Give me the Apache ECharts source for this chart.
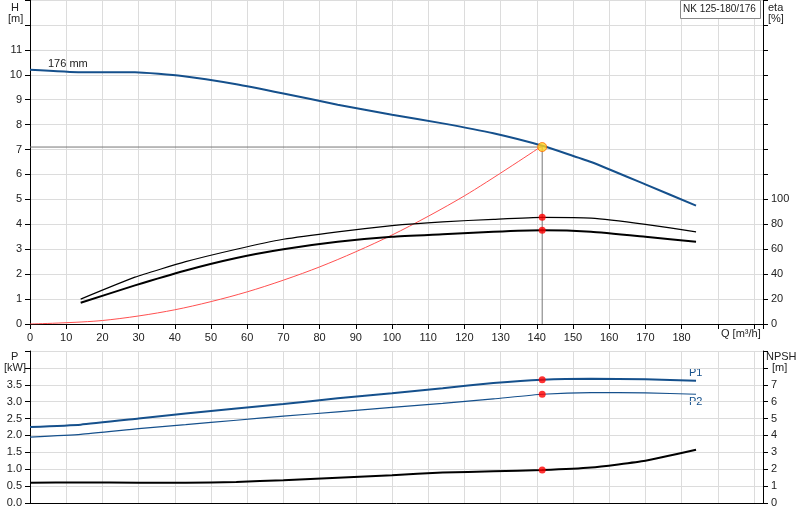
<!DOCTYPE html>
<html><head><meta charset="utf-8">
<script src="https://cdn.jsdelivr.net/npm/echarts@6/dist/echarts.min.js"></script>
<style>html,body{margin:0;padding:0;background:#fff}#c{width:800px;height:520px}</style>
</head><body><div id="c"></div>
<script>
const qH=[0,14,29,42,57,70,85,100,114,128,141.5,155,170,184];
const H=[10.2,10.1,10.1,9.95,9.62,9.25,8.8,8.4,8.05,7.65,7.15,6.5,5.6,4.75];
const qEta=[14,29,43,57,70,85,100,114,128,141.5,155,170,184];
const etaUpper=[20,37.6,50,60,68,74,79,82,84,85.6,85,80,74];
const etaLower=[17,31,43,53,60,66,70,72,74,75.2,74,70,66];
const qSys=[0,20,40,60,80,100,120,141.5];
const hSys=[0,0.14,0.57,1.29,2.29,3.57,5.14,7.15];
const qP=[0,14,30,43,57,70,85,100,114,128,141.5,155,170,184];
const P1=[2.25,2.32,2.5,2.65,2.8,2.93,3.1,3.25,3.4,3.55,3.65,3.68,3.66,3.62];
const P2=[1.95,2.03,2.2,2.32,2.45,2.57,2.7,2.83,2.95,3.08,3.22,3.27,3.26,3.22];
const NPSH=[1.2,1.22,1.2,1.2,1.25,1.35,1.5,1.65,1.8,1.88,1.95,2.1,2.5,3.15];
const duty={q:141.5,h:7.1,etaU:85.6,etaL:75.2,p1:3.65,p2:3.22,npsh:1.95};
const z=(a,b)=>a.map((v,i)=>[v,b[i]]);
const blue='#15508c', grid='#dcdcdc', txt='#222';
const xAx=(gi,show)=>({type:'value',gridIndex:gi,min:0,max:202.5,interval:10,
  axisLine:{lineStyle:{color:'#000'}},axisTick:{show:show,lineStyle:{color:'#000'}},
  axisLabel:{show:show,color:txt,fontSize:11,fontFamily:'Arial',formatter:v=>v<=180?v:''},
  splitLine:{lineStyle:{color:grid}}});
const line=(xi,yi,data,color,w,extra)=>Object.assign({type:'line',xAxisIndex:xi,yAxisIndex:yi,data,showSymbol:false,smooth:0.15,
  lineStyle:{color,width:w},itemStyle:{color},animation:false,silent:true},extra||{});
const dot=(xi,yi,pts,color)=>({type:'scatter',xAxisIndex:xi,yAxisIndex:yi,data:pts,symbolSize:7,itemStyle:{color},z:10,animation:false});
const chart=echarts.init(document.getElementById('c'));
chart.setOption({animation:false,
 grid:[{left:30,right:37,top:0,height:324},{left:30,right:37,top:351,height:152}],
 xAxis:[xAx(0,true),xAx(1,false)],
 yAxis:[
  {type:'value',gridIndex:0,min:0,max:13,interval:1,axisLine:{show:true,lineStyle:{color:'#000'}},axisTick:{lineStyle:{color:'#000'}},
   axisLabel:{color:txt,fontSize:11,fontFamily:'Arial',formatter:v=>v<=11?v:''},splitLine:{lineStyle:{color:grid}}},
  {type:'value',gridIndex:0,position:'right',min:0,max:260,interval:20,axisLine:{show:true,lineStyle:{color:'#000'}},axisTick:{show:true,lineStyle:{color:'#000'}},
   axisLabel:{color:txt,fontSize:11,fontFamily:'Arial',formatter:v=>v<=100?v:''},splitLine:{show:false}},
  {type:'value',gridIndex:1,min:0,max:4.5,interval:0.5,axisLine:{show:true,lineStyle:{color:'#000'}},axisTick:{lineStyle:{color:'#000'}},
   axisLabel:{color:txt,fontSize:11,fontFamily:'Arial',formatter:v=>v<=3.5?v.toFixed(1):''},splitLine:{lineStyle:{color:grid}}},
  {type:'value',gridIndex:1,position:'right',min:0,max:9,interval:1,axisLine:{show:true,lineStyle:{color:'#000'}},axisTick:{show:true,lineStyle:{color:'#000'}},
   axisLabel:{color:txt,fontSize:11,fontFamily:'Arial',formatter:v=>v<=7?v:''},splitLine:{show:false}}
 ],
 series:[
  line(0,0,[[0,duty.h],[duty.q,duty.h]],'#777',1,{smooth:false}),
  line(0,0,[[duty.q,0],[duty.q,duty.h]],'#777',1,{smooth:false}),
  line(0,0,z(qSys,hSys),'#ff5050',1,{smooth:0.3}),
  line(0,0,z(qH,H),blue,2),
  line(0,1,z(qEta,etaUpper),'#000',1.2),
  line(0,1,z(qEta,etaLower),'#000',2),
  dot(0,1,[[duty.q,duty.etaU],[duty.q,duty.etaL]],'#ff0000'),
  {type:'scatter',xAxisIndex:0,yAxisIndex:0,data:[[duty.q,duty.h]],symbolSize:9,itemStyle:{color:'#ffd21f',borderColor:'#ff6a00',borderWidth:1},z:11},
  line(1,2,z(qP,P1),blue,2),
  line(1,2,z(qP,P2),blue,1.2),
  line(1,3,z(qP,NPSH),'#000',2),
  dot(1,2,[[duty.q,duty.p1],[duty.q,duty.p2]],'#ff0000'),
  dot(1,3,[[duty.q,duty.npsh]],'#ff0000')
 ],
 graphic:[
  {type:'text',left:11,top:2,style:{text:'H',font:'11px Arial',fill:txt}},
  {type:'text',left:8,top:13,style:{text:'[m]',font:'11px Arial',fill:txt}},
  {type:'text',left:48,top:58,style:{text:'176 mm',font:'11px Arial',fill:txt}},
  {type:'text',left:768,top:2,style:{text:'eta',font:'11px Arial',fill:txt}},
  {type:'text',left:768,top:13,style:{text:'[%]',font:'11px Arial',fill:txt}},
  {type:'rect',shape:{x:680.5,y:0.5,width:80,height:18},style:{fill:'#fff',stroke:'#888',lineWidth:1},z:20},
  {type:'text',left:683,top:4,style:{text:'NK 125-180/176',font:'10px Arial',fill:txt},z:21},
  {type:'text',left:721,top:328,style:{text:'Q [m³/h]',font:'11px Arial',fill:txt}},
  {type:'text',left:11,top:351,style:{text:'P',font:'11px Arial',fill:txt}},
  {type:'text',left:4,top:362,style:{text:'[kW]',font:'11px Arial',fill:txt}},
  {type:'text',left:766,top:351,style:{text:'NPSH',font:'11px Arial',fill:txt}},
  {type:'text',left:772,top:362,style:{text:'[m]',font:'11px Arial',fill:txt}},
  {type:'text',left:689,top:367,style:{text:'P1',font:'11px Arial',fill:blue}},
  {type:'text',left:689,top:396,style:{text:'P2',font:'11px Arial',fill:blue}}
 ]
});
</script></body></html>
